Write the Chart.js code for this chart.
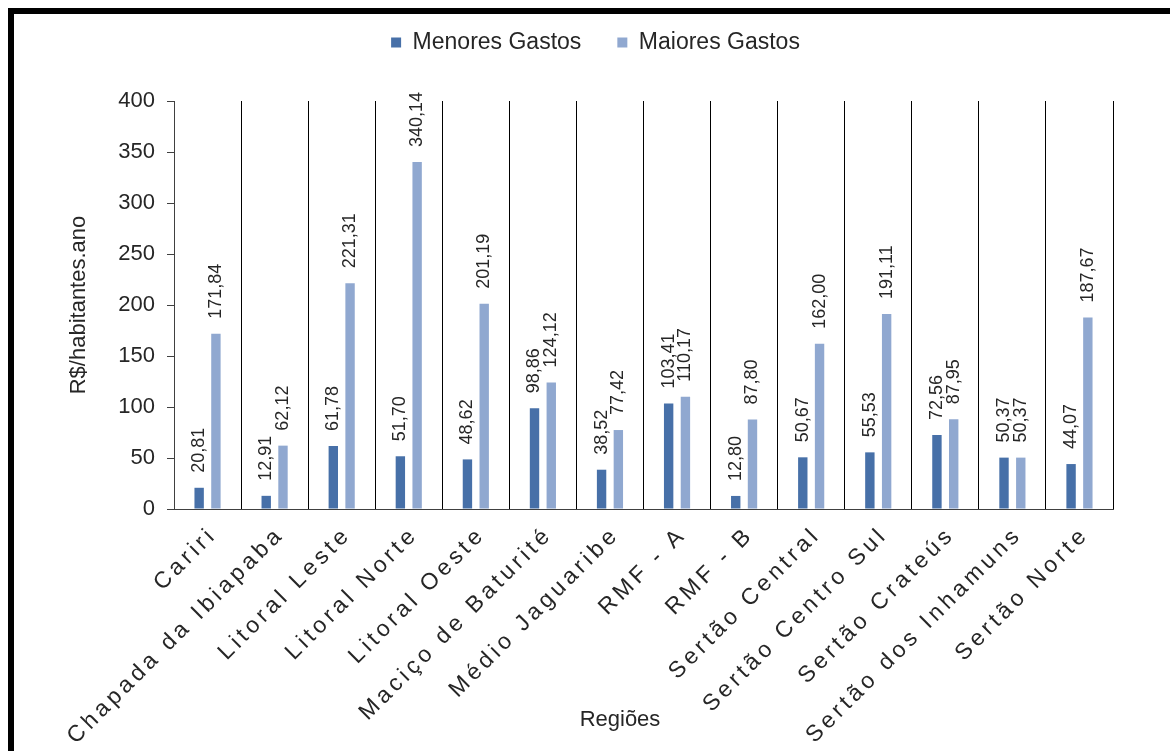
<!DOCTYPE html>
<html>
<head>
<meta charset="utf-8">
<title>Gastos por região</title>
<style>
body { margin: 0; background: #fff; }
#moldura { position: absolute; left: 8px; top: 8px; width: 1156px; height: 737px;
           border-top: 6px solid #000; border-left: 6px solid #000; }
</style>
</head>
<body>

<div id="moldura">
    <canvas id="grafico" width="1156" height="737"></canvas>
</div>

<script src="https://cdn.jsdelivr.net/npm/chart.js@4.4.1/dist/chart.umd.min.js"></script>
<script>

var regioes = ["Cariri", "Chapada da Ibiapaba", "Litoral Leste", "Litoral Norte", "Litoral Oeste",
               "Maciço de Baturité", "Médio Jaguaribe", "RMF - A", "RMF - B", "Sertão Central",
               "Sertão Centro Sul", "Sertão Crateús", "Sertão dos Inhamuns", "Sertão Norte"];
var menores = [20.81, 12.91, 61.78, 51.70, 48.62, 98.86, 38.52, 103.41, 12.80, 50.67, 55.53, 72.56, 50.37, 44.07];
var maiores = [171.84, 62.12, 221.31, 340.14, 201.19, 124.12, 77.42, 110.17, 87.80, 162.00, 191.11, 87.95, 50.37, 187.67];
var yMin = 0, yMax = 400, yPasso = 50;

var FONTE = '"Liberation Sans", Arial, sans-serif';

function fmt(v)
{
    return v.toFixed(2).replace(".", ",");
}

// sobe a legenda e puxa pra direita (o padding dos itens empurra ela pra baixo)
var mexeLegenda = {
    id: "mexeLegenda",
    afterLayout: function(chart)
    {
        if (chart.legend) {
            chart.legend.top -= 37;
            chart.legend.bottom -= 37;
            chart.legend.left += 32;
            chart.legend.right += 32;
        }
    }
};

// valores em cima das barras + rotulos das regioes (inclinados, com espacamento)
var rotulos = {
    id: "rotulos",
    afterDatasetsDraw: function(chart)
    {
        var ctx = chart.ctx;
        ctx.save();
        ctx.fillStyle = "#262626";

        ctx.font = "18px " + FONTE;
        ctx.textAlign = "left";
        ctx.textBaseline = "middle";
        chart.data.datasets.forEach(function(ds, di) {
            chart.getDatasetMeta(di).data.forEach(function(bar, i) {
                ctx.save();
                ctx.translate(bar.x, bar.y - 15);
                ctx.rotate(-Math.PI / 2);
                ctx.fillText(fmt(ds.data[i]), 0, 0);
                ctx.restore();
            });
        });

        var xs = chart.scales.x;
        ctx.font = "23px " + FONTE;
        ctx.letterSpacing = "4px";
        ctx.textAlign = "right";
        for (var i = 0; i < regioes.length; ++i)
        {
            ctx.save();
            ctx.translate(xs.getPixelForTick(i) + 6, xs.top + 22);
            ctx.rotate(-Math.PI / 4);
            ctx.fillText(regioes[i], 0, 0);
            ctx.restore();
        }
        ctx.letterSpacing = "0px";

        ctx.font = "22px " + FONTE;
        ctx.textAlign = "center";
        ctx.fillText("Regiões", 606, 706);
        ctx.restore();
    }
};

var ctx = document.getElementById("grafico").getContext("2d");
var grafico = new Chart(ctx, {
    type: "bar",
    data: {
        labels: regioes,
        datasets: [{
            label: "Menores Gastos",
            data: menores,
            backgroundColor: "#4770a8",
            categoryPercentage: 0.5,
            barPercentage: 0.56
        },
        {
            label: "Maiores Gastos",
            data: maiores,
            backgroundColor: "#90a8d0",
            categoryPercentage: 0.5,
            barPercentage: 0.56
        }]
    },
    options: {
        responsive: false,
        animation: false,
        layout: { padding: { top: 18, right: 57, bottom: 242, left: 0 } },
        plugins: {
            tooltip: { enabled: false },
            legend: {
                position: "top",
                labels: {
                    font: { family: FONTE, size: 23 },
                    color: "#262626",
                    boxWidth: 10,
                    boxHeight: 10,
                    padding: 36
                }
            }
        },
        scales: {
            x: {
                ticks: { display: false },
                grid: { offset: true, drawTicks: false, color: "#000", lineWidth: 1 },
                border: { display: true, color: "#404040", width: 1 }
            },
            y: {
                min: yMin,
                max: yMax,
                ticks: {
                    stepSize: yPasso,
                    padding: 12,
                    color: "#262626",
                    font: { family: FONTE, size: 22 }
                },
                grid: { drawOnChartArea: false, drawTicks: true, tickLength: 7, color: "#404040" },
                border: { display: true, color: "#404040", width: 1 },
                title: {
                    display: true,
                    text: "R$/habitantes.ano",
                    color: "#262626",
                    font: { family: FONTE, size: 22 },
                    padding: { top: 52, bottom: 0 }
                },
                afterFit: function(scale) { scale.width = 160; }
            }
        }
    },
    plugins: [mexeLegenda, rotulos]
});

</script>
</body>
</html>
